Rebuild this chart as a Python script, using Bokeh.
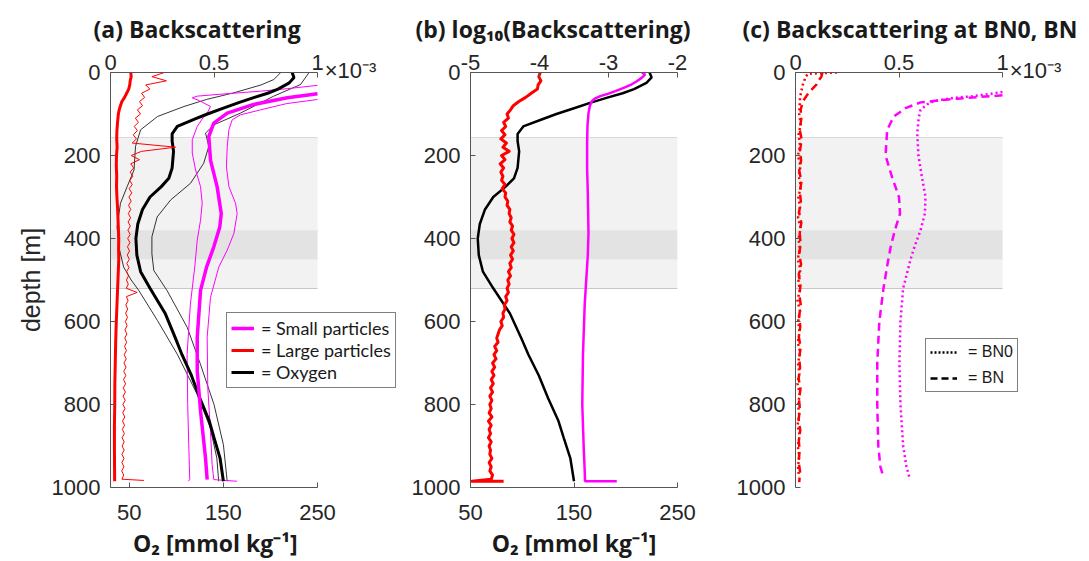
from bokeh.plotting import figure
from bokeh.models import (Range1d, LinearAxis, FixedTicker, BoxAnnotation,
                          Legend, LegendItem)
from bokeh.layouts import row
from bokeh.core.properties import value
from bokeh.embed import file_html
from bokeh.resources import INLINE

NAN = float("nan")

# ---------------- data ----------------
depth_ticks = [0, 200, 400, 600, 800, 1000]
o2_ticks = [50, 150, 250]
bs_ticks = [0, 0.5, 1]
bs_labels = {0: "0", 0.5: "0.5", 1: "1"}
log_ticks = [-5, -4, -3, -2]
log_labels = {-5: "-5", -4: "-4", -3: "-3", -2: "-2"}
exp_text = "×10⁻³"
band_light = [158, 520]
band_dark = [380, 450]
o2_lim_a = [30, 250]
o2_lim_b = [50, 250]
bs_lim = [0, 1]
log_lim = [-5, -2]

# Oxygen (mmol/kg): mean and +/- spread
o2_depth = [0, 12, 25, 40, 50, 60, 72, 86, 100, 112, 130, 148, 165, 190, 230, 255, 275,
            300, 330, 365, 400, 440, 480, 520, 580, 640, 680, 730, 785, 840, 880, 930, 985]
o2_mean = [223, 225, 220, 208, 197, 183, 167, 150, 133, 120, 101, 95.5, 95.5, 97, 95.5, 92, 84,
           72, 64, 59, 57, 58, 62, 72, 88, 99, 106, 116, 125, 135, 140, 146.5, 150]
o2_lo_depth = [0, 17, 30, 49, 65, 82, 106, 138, 178, 235, 275, 315, 372, 420, 469, 500, 525,
               598, 679, 775, 856, 929, 985]
o2_lo = [211, 203.5, 190, 161, 132, 108, 80, 62, 56.6, 55, 47.7, 40.6, 37, 38.8, 44, 52, 60,
         80, 101, 122, 136, 143, 145]
o2_hi_depth = [0, 29, 57, 98, 126, 146, 178, 219, 267, 307, 348, 396, 437, 477, 525, 614, 703,
               800, 897, 985]
o2_hi = [241, 232, 203.5, 168, 140, 131, 134.5, 129, 115, 94, 79.6, 74, 74, 76, 90, 111.5,
         125.6, 140, 150, 154]

# Small particle backscattering (x 1e-3), from where the curves enter the axes
sm_depth = [51, 61, 77, 98, 122, 154, 211, 275, 340, 372, 420, 469, 525, 638, 719, 816,
            929, 981]
sm_mean = [1.0, 0.854, 0.692, 0.564, 0.499, 0.475, 0.483, 0.515, 0.535, 0.528, 0.499,
           0.464, 0.435, 0.419, 0.419, 0.435, 0.459, 0.467]
sm_lo_depth = [31, 39, 45, 53, 57, 61, 68, 82, 95, 106, 130, 162, 194, 235, 275, 315, 356,
               404, 469, 558, 679, 800, 897, 981, 985]
sm_lo = [1.0, 0.854, 0.725, 0.515, 0.419, 0.395, 0.43, 0.483, 0.47, 0.451, 0.419, 0.395,
         0.395, 0.411, 0.435, 0.443, 0.435, 0.419, 0.407, 0.386, 0.370, 0.373, 0.378, 0.383, 0.375]
sm_hi_depth = [65, 75, 90, 102, 114, 138, 178, 227, 275, 315, 340, 388, 428, 469, 542, 638,
               760, 864, 945, 981, 985]
sm_hi = [1.0, 0.85, 0.725, 0.628, 0.588, 0.572, 0.564, 0.560, 0.572, 0.604, 0.612, 0.596,
         0.564, 0.523, 0.483, 0.467, 0.470, 0.483, 0.491, 0.499, 0.612]

# Large particle backscattering (x 1e-3)
lg_depth = [0, 10, 20, 30, 40, 50, 60, 70, 80, 90, 100, 120, 140, 160, 180, 200, 225, 250, 275,
            300, 325, 350, 375, 400, 425, 450, 475, 500, 550, 600, 650, 700, 750, 800, 850, 900,
            950, 985]
lg_mean = [0.098, 0.1, 0.095, 0.093, 0.088, 0.078, 0.068, 0.055, 0.048, 0.042,
           0.038, 0.034, 0.031, 0.03, 0.032, 0.029, 0.028, 0.03, 0.029, 0.031,
           0.034, 0.036, 0.038, 0.04, 0.039, 0.04, 0.038, 0.036, 0.032, 0.028,
           0.025, 0.023, 0.021, 0.0205, 0.019, 0.019, 0.0195, 0.02]
lg_thin_depth = list(range(0, 990, 10)) + [983]
lg_thin = [0.26, 0.2, 0.27, 0.17, 0.19, 0.15, 0.165, 0.14, 0.155, 0.13,
           0.145, 0.12, 0.135, 0.115, 0.13, 0.11, 0.125, 0.105, 0.314, 0.15,
           0.1, 0.14, 0.098, 0.112, 0.095, 0.108, 0.093, 0.105, 0.09, 0.103,
           0.089, 0.1, 0.087, 0.098, 0.086, 0.097, 0.085, 0.096, 0.084, 0.095,
           0.083, 0.094, 0.082, 0.092, 0.081, 0.091, 0.079, 0.089, 0.078, 0.087,
           0.077, 0.086, 0.076, 0.129, 0.077, 0.085, 0.074, 0.083, 0.073, 0.082,
           0.072, 0.08, 0.07, 0.079, 0.069, 0.078, 0.068, 0.077, 0.066, 0.076,
           0.065, 0.075, 0.064, 0.074, 0.063, 0.073, 0.062, 0.072, 0.061, 0.071,
           0.06, 0.07, 0.059, 0.069, 0.058, 0.068, 0.057, 0.067, 0.056, 0.066,
           0.056, 0.066, 0.055, 0.065, 0.055, 0.065, 0.054, 0.064, 0.055,
           0.161]

# Panel (b): log10 backscattering
log_sm_depth = [0, 5, 13, 21, 30, 37, 45, 51, 57, 63, 69, 80, 98, 130, 170, 230, 291, 340, 388,
                440, 493, 560, 680, 800, 900, 960, 985, 985]
log_sm = [-2.515, -2.47, -2.52, -2.59, -2.68, -2.78, -2.9, -3.0, -3.12, -3.2, -3.24, -3.27,
          -3.29, -3.305, -3.31, -3.31, -3.30, -3.295, -3.29, -3.30, -3.32, -3.345, -3.37, -3.38,
          -3.36, -3.345, -3.34, -2.88]
log_lg_depth = list(range(0, 990, 10)) + [985, 985]
log_lg = [-3.99, -4.01, -3.98, -4.02, -4.03, -4.12, -4.2, -4.3, -4.38, -4.42,
          -4.47, -4.45, -4.52, -4.49, -4.55, -4.5, -4.56, -4.48, -4.53, -4.44,
          -4.55, -4.5, -4.57, -4.52, -4.56, -4.53, -4.55, -4.5, -4.54, -4.49,
          -4.5, -4.46, -4.47, -4.43, -4.44, -4.41, -4.43, -4.39, -4.41, -4.37,
          -4.4, -4.37, -4.41, -4.38, -4.42, -4.39, -4.43, -4.41, -4.45, -4.42,
          -4.46, -4.44, -4.47, -4.45, -4.49, -4.47, -4.51, -4.5, -4.53, -4.52,
          -4.56, -4.54, -4.58, -4.6, -4.62, -4.6, -4.65, -4.62, -4.66, -4.63,
          -4.68, -4.65, -4.69, -4.66, -4.7, -4.67, -4.71, -4.68, -4.72, -4.69,
          -4.72, -4.7, -4.73, -4.69, -4.74, -4.7, -4.73, -4.71, -4.74, -4.7,
          -4.73, -4.71, -4.72, -4.69, -4.73, -4.7, -4.72, -4.68, -4.7,
          -4.98, -4.52]

# Panel (c): BN0 and BN stations (x 1e-3)
bn0_sm_depth = [47, 57, 61, 69, 77, 90, 110, 146, 200, 250, 300, 340, 380, 420, 450, 520,
                600, 700, 800, 900, 950, 975]
bn0_sm = [1.0, 0.861, 0.765, 0.668, 0.636, 0.604, 0.595, 0.588, 0.594, 0.61, 0.628, 0.625,
          0.604, 0.575, 0.556, 0.52, 0.507, 0.502, 0.507, 0.52, 0.536, 0.55]
bn_sm_depth = [55, 63, 72, 86, 106, 138, 200, 250, 300, 340, 380, 420, 460, 520, 600, 700,
               800, 900, 950, 975]
bn_sm = [1.0, 0.78, 0.604, 0.531, 0.475, 0.443, 0.435, 0.465, 0.50, 0.505, 0.48, 0.46,
         0.445, 0.425, 0.405, 0.395, 0.395, 0.40, 0.41, 0.425]
bn0_lg_depth = [0, 3, 10, 20, 30, 45, 60, 80] + list(range(100, 1000, 25))
bn0_lg = [0.2, 0.06, 0.05, 0.042, 0.035, 0.028, 0.022, 0.02,
          0.018, 0.025, 0.015, 0.022, 0.012, 0.024, 0.016, 0.026, 0.014, 0.022,
          0.012, 0.025, 0.015, 0.021, 0.011, 0.024, 0.014, 0.02, 0.01, 0.022,
          0.013, 0.02, 0.011, 0.023, 0.012, 0.019, 0.01, 0.021, 0.012, 0.018,
          0.01, 0.02, 0.011, 0.018, 0.012, 0.017]
bn_lg_depth = [0, 10, 20, 30, 40, 55, 70, 90] + list(range(112, 1000, 25))
bn_lg = [0.13, 0.125, 0.11, 0.1, 0.08, 0.055, 0.035, 0.025,
         0.028, 0.02, 0.03, 0.022, 0.027, 0.018, 0.029, 0.021, 0.026, 0.017,
         0.028, 0.02, 0.025, 0.018, 0.027, 0.016, 0.024, 0.019, 0.026, 0.017,
         0.023, 0.016, 0.025, 0.018, 0.022, 0.015, 0.024, 0.017, 0.021, 0.015,
         0.023, 0.016, 0.02, 0.015, 0.022, 0.018]

for a, b in [(o2_depth, o2_mean), (o2_lo_depth, o2_lo), (o2_hi_depth, o2_hi),
             (sm_depth, sm_mean), (sm_lo_depth, sm_lo), (sm_hi_depth, sm_hi),
             (lg_depth, lg_mean), (lg_thin_depth, lg_thin), (log_sm_depth, log_sm),
             (log_lg_depth, log_lg), (bn0_sm_depth, bn0_sm), (bn_sm_depth, bn_sm),
             (bn0_lg_depth, bn0_lg), (bn_lg_depth, bn_lg)]:
    assert len(a) == len(b), (len(a), len(b))

# ---------------- style ----------------
AX_W = 207          # pixel width of the drawn axes box
FRAME_H = 415
TICK_FONT = "Liberation Sans"
AX_COLOR = "#555555"
TXT = "#262626"
MAG = "#ff00ff"
RED = "#ff0000"
EN = "\u2002"
EM = "\u2003"


def style_axis(ax, ticks, overrides=None, standoff=6):
    ax.ticker = FixedTicker(ticks=ticks)
    ax.major_tick_in = 5
    ax.major_tick_out = 0
    ax.minor_tick_line_color = None
    ax.axis_line_color = AX_COLOR
    ax.major_tick_line_color = AX_COLOR
    ax.major_label_text_font = TICK_FONT
    ax.major_label_text_font_size = "22px"
    ax.major_label_text_color = TXT
    ax.major_label_standoff = standoff
    if overrides:
        ax.major_label_overrides = overrides


def ext(lim, frame_w):
    """range that keeps AX_W pixels for lim, widened to frame_w pixels"""
    return Range1d(lim[0], lim[0] + (lim[1] - lim[0]) * frame_w / AX_W)


def base_fig(bl, br, frame_w, x_range, x_loc, title, t_off):
    p = figure(frame_width=frame_w, frame_height=FRAME_H, x_range=x_range,
               y_range=Range1d(1000, 0), x_axis_location=x_loc,
               output_backend="svg", toolbar_location=None,
               min_border_left=bl, min_border_right=br, min_border_top=72,
               min_border_bottom=72)
    p.xgrid.visible = False
    p.ygrid.visible = False
    p.outline_line_color = None
    p.title.text = title
    p.title.text_font = "Open Sans"
    p.title.text_font_style = "bold"
    p.title.text_font_size = "23px"
    p.title.text_color = "#1a1a1a"
    p.title.align = "left"
    p.title.offset = t_off
    p.title.standoff = 10
    p.title.vertical_align = "top"
    return p


def add_bands(p, band_x):
    p.add_layout(BoxAnnotation(top=band_light[0], bottom=band_light[1], left=band_x[0],
                               right=band_x[1], fill_color="#f2f2f2", fill_alpha=1,
                               line_color=None, level="underlay"))
    p.add_layout(BoxAnnotation(top=band_dark[0], bottom=band_dark[1], left=band_x[0],
                               right=band_x[1], fill_color="#e3e3e3", fill_alpha=1,
                               line_color=None, level="underlay"))
    edges = band_light + band_dark
    p.segment(x0=[band_x[0]] * len(edges), x1=[band_x[1]] * len(edges), y0=edges, y1=edges,
              line_color="#a8a8a8", line_width=1, level="underlay")


def exp_axis(p, rng=None):
    kw = {} if rng is None else {"x_range_name": rng}
    ax = LinearAxis(**kw)
    # centred label: leading spaces push the visible text to the right of the tick
    style_axis(ax, [1], {1: EN * 6 + exp_text}, standoff=-31)
    ax.axis_line_color = None
    ax.major_tick_line_color = None
    ax.major_label_text_baseline = "middle"
    p.add_layout(ax, "above")


def o2_label(ax, pad=""):
    ax.axis_label = "O₂ [mmol kg⁻¹]" + pad
    ax.axis_label_text_font = "Open Sans"
    ax.axis_label_text_font_style = "bold"
    ax.axis_label_text_font_size = "23px"
    ax.axis_label_text_color = "#1a1a1a"
    ax.axis_label_standoff = 4


# ---------------- panel (a) ----------------
FW_A = 290
pa = base_fig(110, 4, FW_A, ext(o2_lim_a, FW_A), "below", "(a) Backscattering", -17)
pa.extra_x_ranges = {"bs": ext(bs_lim, FW_A)}
add_bands(pa, o2_lim_a)
xa = pa.xaxis[0]
style_axis(xa, o2_ticks, standoff=17)
xa.bounds = tuple(o2_lim_a)
o2_label(xa, EM * 3 + EN)
top_a = LinearAxis(x_range_name="bs", bounds=tuple(bs_lim))
style_axis(top_a, bs_ticks, bs_labels, standoff=3)
pa.add_layout(top_a, "above")
exp_axis(pa, "bs")
ya = pa.yaxis[0]
style_axis(ya, depth_ticks, standoff=10)
ya.axis_label = "depth [m]"
ya.axis_label_text_font = TICK_FONT
ya.axis_label_text_font_style = "normal"
ya.axis_label_text_font_size = "25px"
ya.axis_label_text_color = TXT
ya.axis_label_standoff = 4

pa.line(o2_lo, o2_lo_depth, line_color="black", line_width=0.8)
pa.line(o2_hi, o2_hi_depth, line_color="black", line_width=0.8)
pa.line(sm_lo, sm_lo_depth, line_color=MAG, line_width=1, x_range_name="bs")
pa.line(sm_hi, sm_hi_depth, line_color=MAG, line_width=1, x_range_name="bs")
r_ox = pa.line(o2_mean, o2_depth, line_color="black", line_width=3)
r_sm = pa.line(sm_mean, sm_depth, line_color=MAG, line_width=3.5, x_range_name="bs")
pa.line(lg_thin, lg_thin_depth, line_color=RED, line_width=1, x_range_name="bs")
r_lg = pa.line(lg_mean, lg_depth, line_color=RED, line_width=3, x_range_name="bs")

leg_a = Legend(items=[LegendItem(label=value("= Small particles"), renderers=[r_sm]),
                      LegendItem(label=value("= Large particles"), renderers=[r_lg]),
                      LegendItem(label=value("= Oxygen"), renderers=[r_ox])],
               location=(116, 99), border_line_color="black", border_line_width=1,
               label_text_font="Lato", label_text_font_size="18px", label_text_color="#1a1a1a",
               glyph_width=23, glyph_height=20, label_height=20, label_standoff=7,
               spacing=0, padding=4, margin=0, background_fill_alpha=1)
pa.add_layout(leg_a)

# ---------------- panel (b) ----------------
pb = base_fig(66, 43, AX_W, Range1d(*o2_lim_b), "below", "(b) log₁₀(Backscattering)", -55)
pb.extra_x_ranges = {"lg": Range1d(*log_lim)}
add_bands(pb, o2_lim_b)
style_axis(pb.xaxis[0], o2_ticks, standoff=17)
o2_label(pb.xaxis[0])
style_axis(pb.yaxis[0], depth_ticks, standoff=10)
top_b = LinearAxis(x_range_name="lg")
style_axis(top_b, log_ticks, log_labels, standoff=3)
pb.add_layout(top_b, "above")
pb.line(o2_mean, o2_depth, line_color="black", line_width=2.5)
pb.line(log_sm, log_sm_depth, line_color=MAG, line_width=2.5, x_range_name="lg")
pb.line(log_lg, log_lg_depth, line_color=RED, line_width=3, x_range_name="lg",
        line_join="round")

# ---------------- panel (c) ----------------
FW_C = 235
pc = base_fig(75, 57, FW_C, ext(bs_lim, FW_C), "above", "(c) Backscattering at BN0, BN", -53)
add_bands(pc, bs_lim)
xc = pc.xaxis[0]
style_axis(xc, bs_ticks, bs_labels, standoff=3)
xc.bounds = tuple(bs_lim)
exp_axis(pc)
style_axis(pc.yaxis[0], depth_ticks, standoff=10)
pc.line(bn0_sm, bn0_sm_depth, line_color=MAG, line_width=2.5, line_dash="2 3")
pc.line(bn_sm, bn_sm_depth, line_color=MAG, line_width=2.5, line_dash="8 5")
pc.line(bn0_lg, bn0_lg_depth, line_color=RED, line_width=2.5, line_dash="2 3")
pc.line(bn_lg, bn_lg_depth, line_color=RED, line_width=2.5, line_dash="8 5")
# legend-only keys (no data drawn)
d_bn0 = pc.line([NAN], [NAN], line_color="black", line_width=2.5, line_dash="2 2")
d_bn = pc.line([NAN], [NAN], line_color="black", line_width=2.5, line_dash="7 4")
leg_c = Legend(items=[LegendItem(label=value("= BN0"), renderers=[d_bn0]),
                      LegendItem(label=value("= BN"), renderers=[d_bn])],
               location=(130, 95), border_line_color="black", border_line_width=1,
               label_text_font=TICK_FONT, label_text_font_size="16px",
               label_text_color="#1a1a1a", glyph_width=27, glyph_height=18, label_height=18,
               label_standoff=11, spacing=8, padding=4, margin=0, background_fill_alpha=1)
pc.add_layout(leg_c)

layout = row(pa, pb, pc)
open("out.html", "w").write(file_html(layout, INLINE))
